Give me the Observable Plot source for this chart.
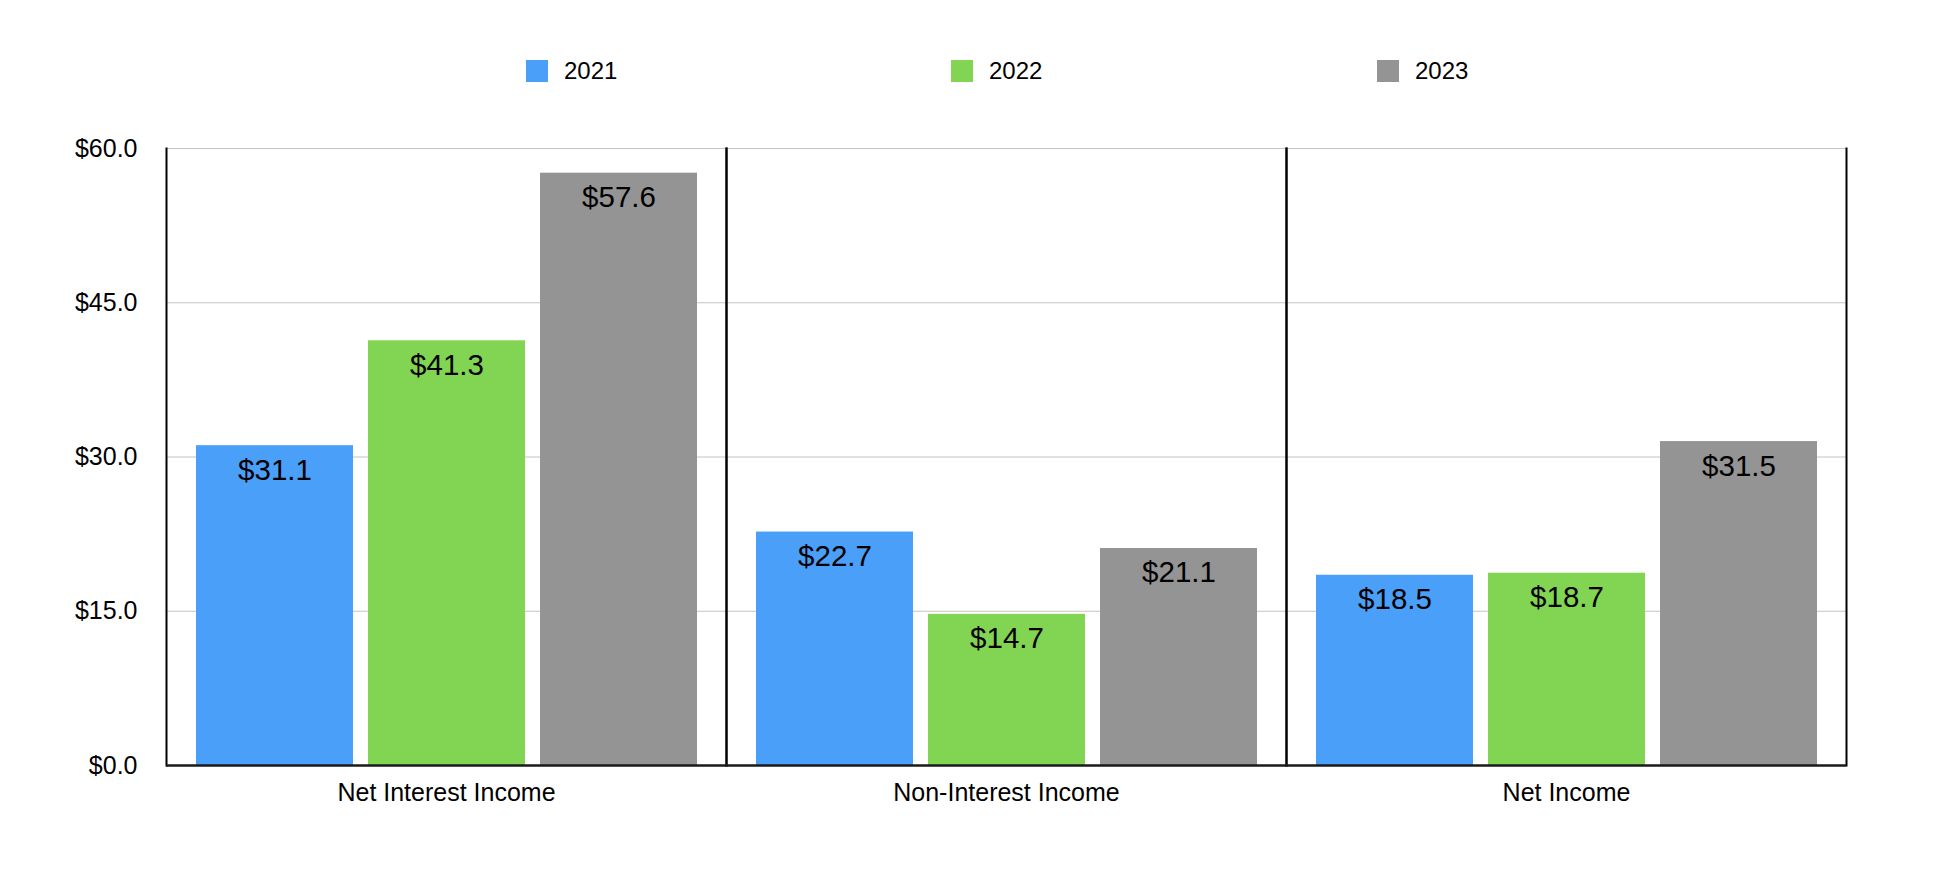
<!DOCTYPE html>
<html>
<head>
<meta charset="utf-8">
<script src="https://cdn.jsdelivr.net/npm/d3@7"></script>
<script src="https://cdn.jsdelivr.net/npm/@observablehq/plot@0.6"></script>
<style>
  body { margin: 0; background: #fff; font-family: Helvetica, Arial, "Liberation Sans", sans-serif; }
  #legend { position: relative; height: 110px; width: 1958px; }
  .item { position: absolute; top: 60px; height: 22px; display: flex; align-items: center; font-size: 24px; color: #000; }
  .sw { width: 22px; height: 22px; margin-right: 16px; }
</style>
</head>
<body>
<div id="legend"></div>
<div id="chart"></div>
<script>
const categories = ["Net Interest Income", "Non-Interest Income", "Net Income"];
const years = ["2021", "2022", "2023"];
const colors = ["#4A9FF8", "#82D552", "#949494"];
const values2021 = [31.1, 22.7, 18.5];
const values2022 = [41.3, 14.7, 18.7];
const values2023 = [57.6, 21.1, 31.5];
const yTicks = [0, 15, 30, 45, 60];
const legendLeft = [526, 951, 1377];

const series = [values2021, values2022, values2023];
const data = [];
categories.forEach((c, i) => years.forEach((y, j) => data.push({category: c, year: y, value: series[j][i]})));

const legend = document.getElementById("legend");
years.forEach((y, j) => {
  const it = document.createElement("div");
  it.className = "item";
  it.style.left = legendLeft[j] + "px";
  it.innerHTML = `<div class="sw" style="background:${colors[j]}"></div><span>${y}</span>`;
  legend.appendChild(it);
});

const fmt = d => "$" + d.toFixed(1);

const chart = Plot.plot({
  width: 1958,
  height: 766,
  marginLeft: 166,
  marginRight: 112,
  marginTop: 38,
  marginBottom: 111,
  style: {fontFamily: "Helvetica, Arial, 'Liberation Sans', sans-serif", fontSize: "25px", color: "#000", background: "#fff"},
  fx: {domain: categories, padding: 0, label: null, tickSize: 0, tickPadding: 18},
  x: {domain: years, paddingInner: 0.088, paddingOuter: 0.17, axis: null},
  y: {domain: [0, 60], ticks: yTicks, tickFormat: fmt, label: null, tickSize: 0, tickPadding: 29},
  color: {domain: years, range: colors},
  marks: [
    Plot.ruleY(yTicks.filter(d => d > 0), {stroke: "#c4c4c4", strokeWidth: 1.2}),
    Plot.barY(data, {fx: "category", x: "year", y: "value", fill: "year"}),
    Plot.text(data, {fx: "category", x: "year", y: "value", text: d => fmt(d.value), lineAnchor: "top", dy: 13, fontSize: 29.5, fill: "#000"}),
    Plot.frame({anchor: "left", stroke: "#000", strokeWidth: 2}),
    Plot.frame({anchor: "right", stroke: "#000", strokeWidth: 2}),
    Plot.ruleY([0], {stroke: "#1a1a1a", strokeWidth: 2.5})
  ]
});
document.getElementById("chart").appendChild(chart);
</script>
</body>
</html>
